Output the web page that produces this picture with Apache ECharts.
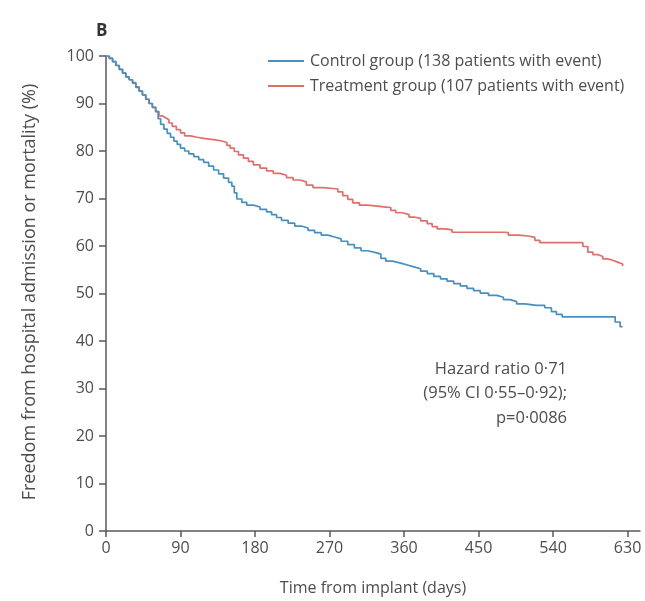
<!DOCTYPE html>
<html>
<head>
<meta charset="utf-8">
<script src="https://cdn.jsdelivr.net/npm/echarts@6/dist/echarts.min.js"></script>
<style>
  html, body { margin: 0; padding: 0; background: #fff; }
  #chart { width: 645px; height: 601px; }
</style>
</head>
<body>
<div id="chart"></div>
<script>
// Kaplan-Meier curves: [day, % free from hospital admission or mortality]
const controlName = 'Control group (138 patients with event)';
const treatmentName = 'Treatment group (107 patients with event)';

const controlSteps = [
  [0, 100], [4, 99.5], [8, 98.8], [12, 98.0], [16, 97.2], [20, 96.4], [24, 95.6],
  [28, 95.0], [32, 94.3], [36, 93.4], [40, 92.6], [44, 91.8], [48, 90.9], [52, 90.0],
  [56, 89.2], [60, 88.3], [63, 86.8], [66, 85.6], [70, 84.6], [74, 83.7], [78, 82.9],
  [82, 82.1], [86, 81.4], [90, 80.6], [95, 80.0], [100, 79.4], [106, 78.8], [112, 78.2],
  [118, 77.6], [124, 76.8], [130, 76.0], [136, 75.2], [142, 74.3], [148, 73.4],
  [152, 72.6], [155, 71.2], [158, 69.9], [164, 69.2], [170, 68.6], [178, 68.2],
  [186, 67.7], [194, 67.2], [200, 66.6], [206, 66.0], [212, 65.4], [220, 64.8],
  [228, 64.2], [236, 63.8], [244, 63.3], [252, 62.8], [260, 62.3], [268, 61.9],
  [276, 61.5], [284, 61.0], [292, 60.3], [300, 59.6], [308, 59.0], [316, 58.6],
  [326, 58.3], [332, 57.4], [338, 56.8], [346, 56.4], [356, 56.0], [364, 55.6],
  [372, 55.2], [380, 54.7], [388, 54.2], [396, 53.6], [404, 53.1], [412, 52.6],
  [420, 52.1], [428, 51.6], [436, 51.1], [444, 50.6], [452, 50.1], [462, 49.6],
  [472, 49.2], [480, 48.7], [488, 48.3], [496, 47.8], [506, 47.5], [520, 47.5],
  [530, 47.0], [538, 46.2], [544, 45.6], [551, 45.1], [611, 45.1], [615, 44.0],
  [621, 43.0], [624, 43.0]
];

const treatmentSteps = [
  [0, 100], [4, 99.5], [8, 98.8], [12, 98.0], [16, 97.2], [20, 96.4], [24, 95.6],
  [28, 95.0], [32, 94.4], [36, 93.5], [40, 92.6], [44, 91.8], [48, 90.9], [52, 90.0],
  [56, 89.2], [60, 88.3], [64, 87.4], [68, 87.0], [72, 86.6], [76, 85.9], [80, 85.2],
  [85, 84.5], [90, 83.8], [95, 83.2], [102, 82.9], [110, 82.6], [120, 82.4],
  [130, 82.1], [140, 81.8], [146, 81.2], [150, 80.6], [155, 79.9], [160, 79.2],
  [166, 78.5], [172, 77.8], [178, 77.1], [186, 76.4], [194, 75.8], [202, 75.3],
  [210, 74.9], [218, 74.4], [226, 73.9], [234, 73.5], [242, 72.8], [250, 72.3],
  [262, 72.1], [274, 72.0], [280, 71.4], [286, 70.6], [292, 69.8], [298, 69.1],
  [306, 68.6], [316, 68.4], [328, 68.2], [338, 68.1], [344, 67.5], [350, 67.0],
  [358, 66.6], [366, 66.1], [372, 65.8], [380, 65.3], [388, 64.7], [394, 64.1],
  [400, 63.6], [410, 63.4], [418, 62.9], [450, 62.9], [482, 62.8], [486, 62.3],
  [498, 62.1], [510, 61.8], [518, 61.2], [524, 60.7], [572, 60.7], [576, 59.9],
  [582, 58.7], [588, 58.2], [594, 57.8], [600, 57.3], [606, 57.0], [612, 56.6],
  [618, 56.2], [624, 55.8]
];

const dayTicks = [0, 90, 180, 270, 360, 450, 540, 630];
const statLines = ['Hazard ratio 0·71', '(95% CI 0·55–0·92);', 'p=0·0086'];

const FONT = '"Open Sans", "Noto Sans", sans-serif';
const TEXT = '#4d4d4d';
const AXIS = '#5a5a5a';

const chart = echarts.init(document.getElementById('chart'), null, { renderer: 'canvas' });

chart.setOption({
  backgroundColor: '#fff',
  animation: false,
  grid: { left: 106, right: 5, top: 56, bottom: 55, containLabel: false },
  legend: {
    orient: 'vertical',
    left: 263,
    top: 48,
    itemWidth: 36,
    itemHeight: 2,
    itemGap: 9,
    icon: 'rect',
    textStyle: { color: TEXT, fontSize: 16, fontFamily: FONT, padding: [0, 0, 0, 1] },
    data: [controlName, treatmentName]
  },
  xAxis: {
    type: 'value',
    min: 0,
    max: 645,
    name: 'Time from implant (days)',
    nameLocation: 'middle',
    nameGap: 49,
    nameTextStyle: { color: TEXT, fontSize: 16, fontFamily: FONT },
    splitLine: { show: false },
    axisLine: { show: true, onZero: false, lineStyle: { color: AXIS, width: 1.5 } },
    axisTick: { show: true, length: 6, customValues: dayTicks, lineStyle: { color: AXIS, width: 1.5 } },
    axisLabel: { customValues: dayTicks, color: TEXT, fontSize: 16, fontFamily: FONT, margin: 9 }
  },
  yAxis: {
    type: 'value',
    min: 0,
    max: 100,
    interval: 10,
    splitLine: { show: false },
    axisLine: { show: true, lineStyle: { color: AXIS, width: 1.5 } },
    axisTick: { show: true, length: 7, lineStyle: { color: AXIS, width: 1.5 } },
    axisLabel: { color: TEXT, fontSize: 16, fontFamily: FONT, margin: 12 }
  },
  series: [
    {
      name: controlName,
      type: 'line',
      step: 'end',
      data: controlSteps,
      symbol: 'none',
      lineStyle: { color: '#4690c2', width: 1.7 },
      itemStyle: { color: '#4690c2' },
      z: 3
    },
    {
      name: treatmentName,
      type: 'line',
      step: 'end',
      data: treatmentSteps,
      symbol: 'none',
      lineStyle: { color: '#df6f6b', width: 1.7 },
      itemStyle: { color: '#df6f6b' },
      z: 2
    }
  ],
  graphic: [
    {
      type: 'text', left: 96, top: 23,
      style: { text: 'B', fill: '#333', font: 'bold 17px ' + FONT }
    },
    {
      type: 'text', x: 30, y: 292, rotation: Math.PI / 2,
      style: {
        text: 'Freedom from hospital admission or mortality (%)',
        fill: TEXT, font: '18px ' + FONT, align: 'center', verticalAlign: 'middle'
      }
    },
    {
      type: 'text', x: 567, y: 369,
      style: { text: statLines[0], fill: TEXT, font: '16.5px ' + FONT, align: 'right', verticalAlign: 'middle' }
    },
    {
      type: 'text', x: 567, y: 393,
      style: { text: statLines[1], fill: TEXT, font: '16.5px ' + FONT, align: 'right', verticalAlign: 'middle' }
    },
    {
      type: 'text', x: 567, y: 418,
      style: { text: statLines[2], fill: TEXT, font: '16.5px ' + FONT, align: 'right', verticalAlign: 'middle' }
    }
  ]
});
</script>
</body>
</html>
